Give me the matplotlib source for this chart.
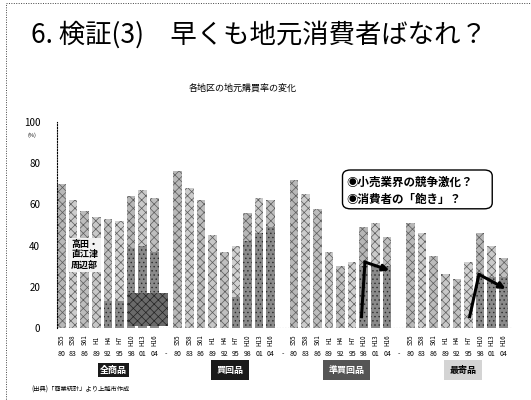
import numpy as np
import matplotlib.pyplot as plt
from matplotlib.patches import Rectangle, FancyBboxPatch
from matplotlib.transforms import blended_transform_factory

plt.rcParams['font.family'] = ['Noto Sans CJK JP', 'DejaVu Sans']
plt.rcParams['hatch.linewidth'] = 0.5

# 地元購買率 (%)  S55 .. H16
era_labels = ['S55', 'S58', 'S61', 'H1', 'H4', 'H7', 'H10', 'H13', 'H16']
year_labels = ['80', '83', '86', '89', '92', '95', '98', '01', '04']
groups = ['全商品', '買回品', '準買回品', '最寄品']

all_goods = [70, 62, 57, 54, 53, 52, 64, 67, 63]
shopping = [76, 68, 62, 45, 37, 40, 56, 63, 62]
semi_shopping = [72, 65, 58, 37, 30, 32, 49, 51, 44]
convenience = [51, 46, 35, 26, 24, 32, 46, 40, 34]

# 下段(濃色)部分
all_goods_inner = [0, 0, 0, 0, 13, 13, 39, 40, 37]
shopping_inner = [0, 0, 0, 0, 0, 15, 42, 46, 49]
semi_inner = [0, 0, 0, 0, 0, 0, 30, 30, 30]
conv_inner = [0, 0, 0, 0, 0, 0, 25, 25, 25]

# 合併後の推移(矢印)
semi_line_x = [25.8, 26.1, 28.2]
semi_line_y = [5.5, 32, 28]
conv_line_x = [35.1, 35.9, 38.2]
conv_line_y = [5.5, 26, 19]

series = [all_goods, shopping, semi_shopping, convenience]
inners = [all_goods_inner, shopping_inner, semi_inner, conv_inner]

shades = ['#b8b8b8', '#cccccc', '#bcbcbc', '#c8c8c8', '#c0c0c0',
          '#d0d0d0', '#b6b6b6', '#cacaca', '#bebebe']

fig = plt.figure(figsize=(5.31, 4.0), dpi=100)
ax = fig.add_axes([0.107, 0.18, 0.857, 0.515])

for g, (vals, inner) in enumerate(zip(series, inners)):
    xs = g * 10 + np.arange(9)
    for i, x in enumerate(xs):
        ax.bar(x, vals[i], width=0.74, color=shades[i], hatch='xxxx',
               edgecolor='#5a5a5a', linewidth=0)
        if inner[i] > 0:
            ax.bar(x, inner[i], width=0.74, color='#8a8a8a', hatch='....',
                   edgecolor='#2a2a2a', linewidth=0)

ax.plot(semi_line_x[:2], semi_line_y[:2], color='black', lw=2.2)
ax.annotate('', xy=(semi_line_x[2], semi_line_y[2]),
            xytext=(semi_line_x[1], semi_line_y[1]),
            arrowprops=dict(arrowstyle='-|>', color='black', lw=2.2,
                            mutation_scale=9, shrinkA=0, shrinkB=0))
ax.plot(conv_line_x[:2], conv_line_y[:2], color='black', lw=2.2)
ax.annotate('', xy=(conv_line_x[2], conv_line_y[2]),
            xytext=(conv_line_x[1], conv_line_y[1]),
            arrowprops=dict(arrowstyle='-|>', color='black', lw=2.2,
                            mutation_scale=9, shrinkA=0, shrinkB=0))

ax.set_xlim(-0.39, 38.73)
ax.set_ylim(0, 100)
for s in ['top', 'right', 'bottom']:
    ax.spines[s].set_visible(False)
ax.spines['left'].set_linestyle((0, (1, 1.5)))
ax.spines['left'].set_linewidth(0.8)
ax.axhline(0, color='#555555', lw=0.8, ls=(0, (1, 1.5)), zorder=0)
ax.set_xticks([])
ax.set_yticks([0, 20, 40, 60, 80, 100])
ax.tick_params(axis='y', length=0, labelsize=7, pad=12)
ax.text(-0.045, 0.935, '(%)', transform=ax.transAxes, fontsize=4,
        ha='right', va='center')

tr = blended_transform_factory(ax.transData, ax.transAxes)
for g in range(4):
    for i in range(9):
        x = g * 10 + i
        ax.text(x, -0.058, era_labels[i], transform=tr, rotation=90,
                fontsize=4.5, ha='center', va='center')
        ax.text(x, -0.126, year_labels[i], transform=tr, fontsize=5,
                ha='center', va='center')
    if g < 3:
        ax.text(g * 10 + 9, -0.126, '-', transform=tr, fontsize=5,
                ha='center', va='center')

# 区分ラベル
box_styles = [dict(fc='#1a1a1a', tc='white', pad=0.25),
              dict(fc='#1a1a1a', tc='white', pad=0.6),
              dict(fc='#555555', tc='white', pad=0.6),
              dict(fc='#d4d4d4', tc='black', pad=0.6)]
for g, name in enumerate(groups):
    st = box_styles[g]
    ax.text(g * 10 + 4.5, -0.204, name, transform=tr, fontsize=6.5,
            fontweight='bold', color=st['tc'], ha='center', va='center',
            bbox=dict(boxstyle='square,pad=%s' % st['pad'], fc=st['fc'],
                      ec='none'))

# 地区ラベル
ax.text(2.0, 35.5, '高田・\n直江津\n周辺部', fontsize=6.5, fontweight='bold',
        ha='center', va='center', linespacing=1.15, zorder=4,
        bbox=dict(boxstyle='square,pad=0.3', fc='#f2f2f2', ec='none'))
ax.add_patch(Rectangle((5.7, 0.8), 3.5, 16, fc='#6a6a6a', hatch='xxxx',
                       ec='#222222', lw=0, zorder=3))

# 吹き出し
box = FancyBboxPatch((0.645, 0.478), 0.282, 0.097,
                     boxstyle='round,pad=0.0,rounding_size=0.015',
                     transform=fig.transFigure, fc='white', ec='black', lw=1.0)
fig.patches.append(box)
fig.text(0.652, 0.544, '◉小売業界の競争激化？', fontsize=8.3,
         fontweight='bold', va='center')
fig.text(0.652, 0.502, '◉消費者の「飽き」？', fontsize=8.3,
         fontweight='bold', va='center')

fig.text(0.487, 0.913, '6. 検証(3)　早くも地元消費者ばなれ？', fontsize=19,
         ha='center', va='center')
fig.text(0.457, 0.78, '各地区の地元購買率の変化', fontsize=6.5,
         ha='center', va='center')
fig.text(0.06, 0.025, '(出典)「商業統計」より上越市作成', fontsize=4.5,
         va='center')

fig.patches.append(Rectangle((0.011, -0.1), 1.2, 1.092,
                             transform=fig.transFigure, fill=False,
                             ec='#444444', lw=0.7, ls=(0, (1, 1.5))))

fig.savefig('out.png', dpi=100)
